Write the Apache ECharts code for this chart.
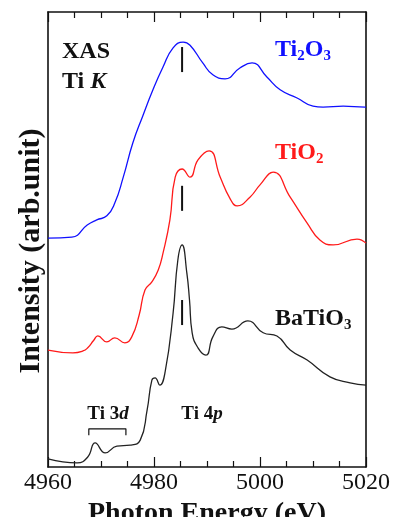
<!DOCTYPE html>
<html>
<head>
<meta charset="utf-8">
<script src="https://cdn.jsdelivr.net/npm/echarts@6/dist/echarts.min.js"></script>
<style>
  html, body { margin: 0; padding: 0; background: #fff; }
  #main { width: 393px; height: 517px; }
</style>
</head>
<body>
<div id="main"></div>
<script>
// spectra (intensity in arbitrary units, offset per sample)
var ti2o3Energy = [4960.0, 4964.5, 4967.4, 4969.2, 4971.1, 4972.6, 4974.2, 4976.0, 4977.9, 4979.8, 4981.7, 4983.6, 4985.5, 4986.8, 4989.2, 4991.1, 4993.4, 4996.2, 4998.5, 5001.3, 5003.8, 5007.0, 5010.0, 5011.9, 5015.7, 5019.8, 5020];
var ti2o3Value = [50.3, 50.5, 53.2, 54.3, 55.2, 58.0, 63.7, 71.2, 77.2, 82.9, 87.9, 92.1, 93.4, 92.7, 88.8, 86.2, 85.3, 87.7, 88.8, 85.7, 82.9, 81.1, 79.3, 79.1, 79.3, 79.1, 79.1];

var tio2Energy = [4960.0, 4964.7, 4966.6, 4967.5, 4968.6, 4969.4, 4971.1, 4972.6, 4974.5, 4975.8, 4977.2, 4978.3, 4979.6, 4980.8, 4981.7, 4983.0, 4984.0, 4985.3, 4986.8, 4988.3, 4990.4, 4992.5, 4994.3, 4995.7, 4998.1, 5000.0, 5002.5, 5005.7, 5008.9, 5011.3, 5013.8, 5018.3, 5020];
var tio2Value = [25.7, 25.1, 25.5, 26.2, 27.8, 28.8, 27.5, 28.4, 27.3, 28.6, 33.4, 38.9, 40.7, 43.3, 47.0, 54.3, 63.7, 65.5, 63.7, 67.5, 69.5, 63.7, 59.1, 57.4, 59.3, 62.0, 64.8, 59.3, 53.6, 49.9, 48.8, 50.1, 49.2];

var batio3Energy = [4960.0, 4965.5, 4967.5, 4968.9, 4970.8, 4973.0, 4975.5, 4977.4, 4978.7, 4979.6, 4980.2, 4981.1, 4982.1, 4983.6, 4984.5, 4985.3, 4986.2, 4986.7, 4987.2, 4988.3, 4989.8, 4991.1, 4992.8, 4994.7, 4997.7, 5000.6, 5003.2, 5005.7, 5008.9, 5013.2, 5017.0, 5020];
var batio3Value = [1.8, 0.9, 2.2, 5.3, 3.1, 4.6, 4.8, 5.9, 12.5, 19.1, 19.6, 18.0, 20.9, 33.8, 45.5, 48.8, 42.6, 36.7, 29.5, 26.2, 24.6, 28.6, 30.8, 30.3, 32.1, 29.5, 28.8, 25.7, 23.5, 19.8, 18.5, 18.0];

// Ti 4p marker bars (same energy on each curve)
var markerEnergy = 4985.3;
var markerTop = [92.3, 61.8, 36.7];
var markerBottom = [86.8, 56.3, 31.2];

// Ti 3d bracket
var bracketEnergy = [4967.7, 4974.7];
var bracketLevel = [7.0, 8.4];

var xTicks = { min: 4960, max: 5020, step: 20 };

function pairs(xs, ys) {
    return xs.map(function (x, i) { return [x, ys[i]]; });
}

var serif = '"Liberation Serif", "Times New Roman", serif';
var chart = echarts.init(document.getElementById('main'));

var tickCfg = {
    show: true,
    inside: true,
    length: 10,
    lineStyle: { color: '#111', width: 1.2 }
};
var minorCfg = {
    show: true,
    splitNumber: 4,
    length: 6,
    lineStyle: { color: '#111', width: 1.2 }
};
var frameLine = { show: true, onZero: false, lineStyle: { color: '#111', width: 1.6 } };

var markerSeries = markerTop.map(function (t, i) {
    return {
        type: 'line',
        data: [[markerEnergy, t], [markerEnergy, markerBottom[i]]],
        symbol: 'none',
        lineStyle: { color: '#111', width: 2 },
        silent: true
    };
});

function curve(name, xs, ys, color) {
    return {
        name: name,
        type: 'line',
        data: pairs(xs, ys),
        smooth: 0.5,
        symbol: 'none',
        lineStyle: { color: color, width: 1.3 },
        silent: true
    };
}

function sub(color) {
    return {
        main: { fontSize: 24, fontWeight: 'bold', fontFamily: serif, fill: color, color: color, lineHeight: 28 },
        s: { fontSize: 15, fontWeight: 'bold', fontFamily: serif, fill: color, color: color, verticalAlign: 'bottom' }
    };
}

var option = {
    animation: false,
    grid: { left: 48, right: 27, top: 12, bottom: 50, outerBoundsMode: 'none' },
    xAxis: [{
        type: 'value',
        min: xTicks.min,
        max: xTicks.max,
        interval: xTicks.step,
        position: 'bottom',
        axisLine: frameLine,
        axisTick: tickCfg,
        minorTick: minorCfg,
        splitLine: { show: false },
        axisLabel: {
            color: '#111',
            fontFamily: serif,
            fontSize: 24,
            margin: 4,
            formatter: function (v) { return String(v); }
        },
        name: 'Photon Energy (eV)',
        nameLocation: 'middle',
        nameGap: 25,
        nameTextStyle: {
            color: '#111',
            fontFamily: serif,
            fontSize: 28,
            fontWeight: 'bold',
            verticalAlign: 'top'
        }
    }, {
        type: 'value',
        min: xTicks.min,
        max: xTicks.max,
        interval: xTicks.step,
        position: 'top',
        axisLine: frameLine,
        axisTick: tickCfg,
        minorTick: minorCfg,
        splitLine: { show: false },
        axisLabel: { show: false }
    }],
    yAxis: [{
        type: 'value',
        min: 0,
        max: 100,
        position: 'left',
        axisLine: frameLine,
        axisTick: { show: false },
        axisLabel: { show: false },
        splitLine: { show: false }
    }, {
        type: 'value',
        min: 0,
        max: 100,
        position: 'right',
        axisLine: frameLine,
        axisTick: { show: false },
        axisLabel: { show: false },
        splitLine: { show: false }
    }],
    series: [
        curve('Ti2O3', ti2o3Energy, ti2o3Value, '#1010ff'),
        curve('TiO2', tio2Energy, tio2Value, '#ff1a1a'),
        curve('BaTiO3', batio3Energy, batio3Value, '#222'),
        {
            type: 'line',
            data: [[bracketEnergy[0], bracketLevel[0]], [bracketEnergy[0], bracketLevel[1]],
                   [bracketEnergy[1], bracketLevel[1]], [bracketEnergy[1], bracketLevel[0]]],
            symbol: 'none',
            lineStyle: { color: '#111', width: 1.2 },
            silent: true
        }
    ].concat(markerSeries),
    graphic: [
        {
            type: 'text', x: 31, y: 251, rotation: Math.PI / 2,
            style: {
                text: 'Intensity (arb.unit)', fill: '#111',
                font: 'bold 30px "Liberation Serif", "Times New Roman", serif',
                align: 'center', verticalAlign: 'middle'
            }
        },
        {
            type: 'text', x: 62, y: 40,
            style: { text: 'XAS', fill: '#111', font: 'bold 24px "Liberation Serif", "Times New Roman", serif' }
        },
        {
            type: 'text', x: 62, y: 70,
            style: {
                text: '{m|Ti }{i|K}',
                rich: {
                    m: { fontSize: 24, fontWeight: 'bold', fontFamily: serif, fill: '#111' },
                    i: { fontSize: 24, fontWeight: 'bold', fontStyle: 'italic', fontFamily: serif, fill: '#111' }
                }
            }
        },
        {
            type: 'text', x: 275, y: 36,
            style: { text: '{main|Ti}{s|2}{main|O}{s|3}', rich: sub('#1010ff') }
        },
        {
            type: 'text', x: 275, y: 139,
            style: { text: '{main|TiO}{s|2}', rich: sub('#ff1a1a') }
        },
        {
            type: 'text', x: 275, y: 305,
            style: { text: '{main|BaTiO}{s|3}', rich: sub('#111') }
        },
        {
            type: 'text', x: 108, y: 414,
            style: {
                text: '{m|Ti 3}{i|d}', align: 'center', verticalAlign: 'middle',
                rich: {
                    m: { fontSize: 19, fontWeight: 'bold', fontFamily: serif, fill: '#111' },
                    i: { fontSize: 19, fontWeight: 'bold', fontStyle: 'italic', fontFamily: serif, fill: '#111' }
                }
            }
        },
        {
            type: 'text', x: 202, y: 414,
            style: {
                text: '{m|Ti 4}{i|p}', align: 'center', verticalAlign: 'middle',
                rich: {
                    m: { fontSize: 19, fontWeight: 'bold', fontFamily: serif, fill: '#111' },
                    i: { fontSize: 19, fontWeight: 'bold', fontStyle: 'italic', fontFamily: serif, fill: '#111' }
                }
            }
        }
    ]
};

chart.setOption(option);
</script>
</body>
</html>
